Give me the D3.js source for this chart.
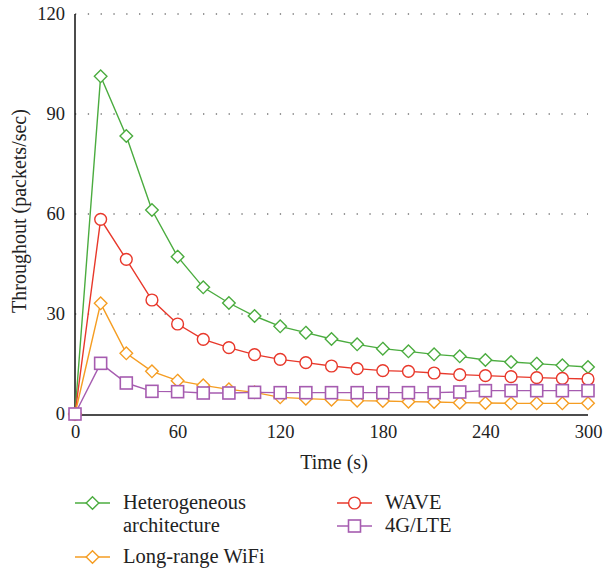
<!DOCTYPE html>
<html><head><meta charset="utf-8">
<script src="https://cdn.jsdelivr.net/npm/d3@7"></script>
<style>body{margin:0;background:#fff}svg{display:block}text{font-family:"Liberation Serif","DejaVu Serif",serif;fill:#222}</style>
</head><body>
<svg id="c" width="615" height="574"></svg>
<script>
const times = [0,15,30,45,60,75,90,105,120,135,150,165,180,195,210,225,240,255,270,285,300];
const hetero = [0,101.3,83.4,61.2,47.2,38,33.3,29.4,26.3,24.4,22.5,20.9,19.6,18.8,17.9,17.3,16.2,15.6,15.1,14.6,14.1];
const wave = [0,58.4,46.4,34.2,27,22.4,19.9,17.8,16.4,15.4,14.4,13.6,13,12.8,12.3,11.8,11.5,11.2,10.9,10.7,10.5];
const wifi = [0,33.2,18.2,12.8,10,8.6,7.4,6.5,5.0,4.6,4.3,4.0,3.9,3.7,3.6,3.4,3.3,3.2,3.2,3.2,3.2];
const lte = [0,15.2,9.3,6.8,6.7,6.3,6.3,6.5,6.4,6.4,6.4,6.4,6.4,6.4,6.4,6.6,7.0,7.0,7.0,7.0,7.0];
const yTicks = [0,30,60,90,120];
const xTicks = [0,60,120,180,240,300];

const series = [
  {name:["Heterogeneous","architecture"], values:hetero, color:"#4bac3f", marker:"diamond"},
  {name:["WAVE"], values:wave, color:"#e8382b", marker:"circle"},
  {name:["Long-range WiFi"], values:wifi, color:"#f59d22", marker:"diamond"},
  {name:["4G/LTE"], values:lte, color:"#a65cb0", marker:"square"}
];

const svg = d3.select("#c");
const x = d3.scaleLinear().domain([0,300]).range([75,588]);
const y = d3.scaleLinear().domain([0,120]).range([414,14]);

// grid
svg.append("g").selectAll("line").data(yTicks.filter(d=>d>0)).join("line")
  .attr("x1",x(0)).attr("x2",x(300)).attr("y1",d=>y(d)).attr("y2",d=>y(d))
  .attr("stroke","#777").attr("stroke-width",1.3).attr("stroke-dasharray","1.3,11.5");

// axes
const yAxis = svg.append("g").attr("transform",`translate(${x(0)},0)`)
  .call(d3.axisLeft(y).tickValues(yTicks).tickSize(0).tickPadding(10));
const xAxis = svg.append("g").attr("transform",`translate(0,${y(0)+1})`)
  .call(d3.axisBottom(x).tickValues(xTicks).tickSize(0).tickPadding(10));
[yAxis,xAxis].forEach(a=>{
  a.select(".domain").attr("stroke","#111").attr("stroke-width",1.5);
  a.selectAll("text").attr("font-size",18.5).attr("font-family","Liberation Serif, serif").attr("fill","#222");
});
yAxis.select(".domain").attr("d",`M0,${y(120)}V${y(0)+1}`);
xAxis.select(".domain").attr("d",`M${x(0)},0H${x(300)}`);

svg.append("text").attr("x",334).attr("y",469).attr("text-anchor","middle").attr("font-size",20).text("Time (s)");
svg.append("text").attr("transform","translate(26,211) rotate(-90)").attr("text-anchor","middle").attr("font-size",20).text("Throughout (packets/sec)");

function drawMarker(g, type, cx, cy, color){
  if(type==="diamond"){
    g.append("path").attr("d",`M${cx},${cy-6.3}L${cx+6.3},${cy}L${cx},${cy+6.3}L${cx-6.3},${cy}Z`)
      .attr("fill","#fff").attr("stroke",color).attr("stroke-width",1.4);
  } else if(type==="circle"){
    g.append("circle").attr("cx",cx).attr("cy",cy).attr("r",5.9)
      .attr("fill","#fff").attr("stroke",color).attr("stroke-width",1.4);
  } else {
    g.append("rect").attr("x",cx-6).attr("y",cy-6).attr("width",12).attr("height",12)
      .attr("fill","#fff").attr("stroke",color).attr("stroke-width",1.6);
  }
}

const line = d3.line().x((d,i)=>x(times[i])).y(d=>y(d));
series.forEach(s=>{
  const g = svg.append("g");
  g.append("path").datum(s.values).attr("d",line).attr("fill","none").attr("stroke",s.color).attr("stroke-width",1.4);
  s.values.forEach((v,i)=>drawMarker(g,s.marker,x(times[i]),y(v),s.color));
});

// legend
const legPos = [[75,503],[337,503],[75,557],[337,526]];
series.forEach((s,i)=>{
  const [lx,ly] = legPos[i];
  const g = svg.append("g");
  g.append("line").attr("x1",lx).attr("x2",lx+35).attr("y1",ly).attr("y2",ly).attr("stroke",s.color).attr("stroke-width",1.4);
  drawMarker(g,s.marker,lx+17.5,ly,s.color);
  s.name.forEach((t,k)=>{
    g.append("text").attr("x",lx+48).attr("y",ly+6+k*23).attr("font-size",20.5).text(t);
  });
});
</script>
</body></html>
